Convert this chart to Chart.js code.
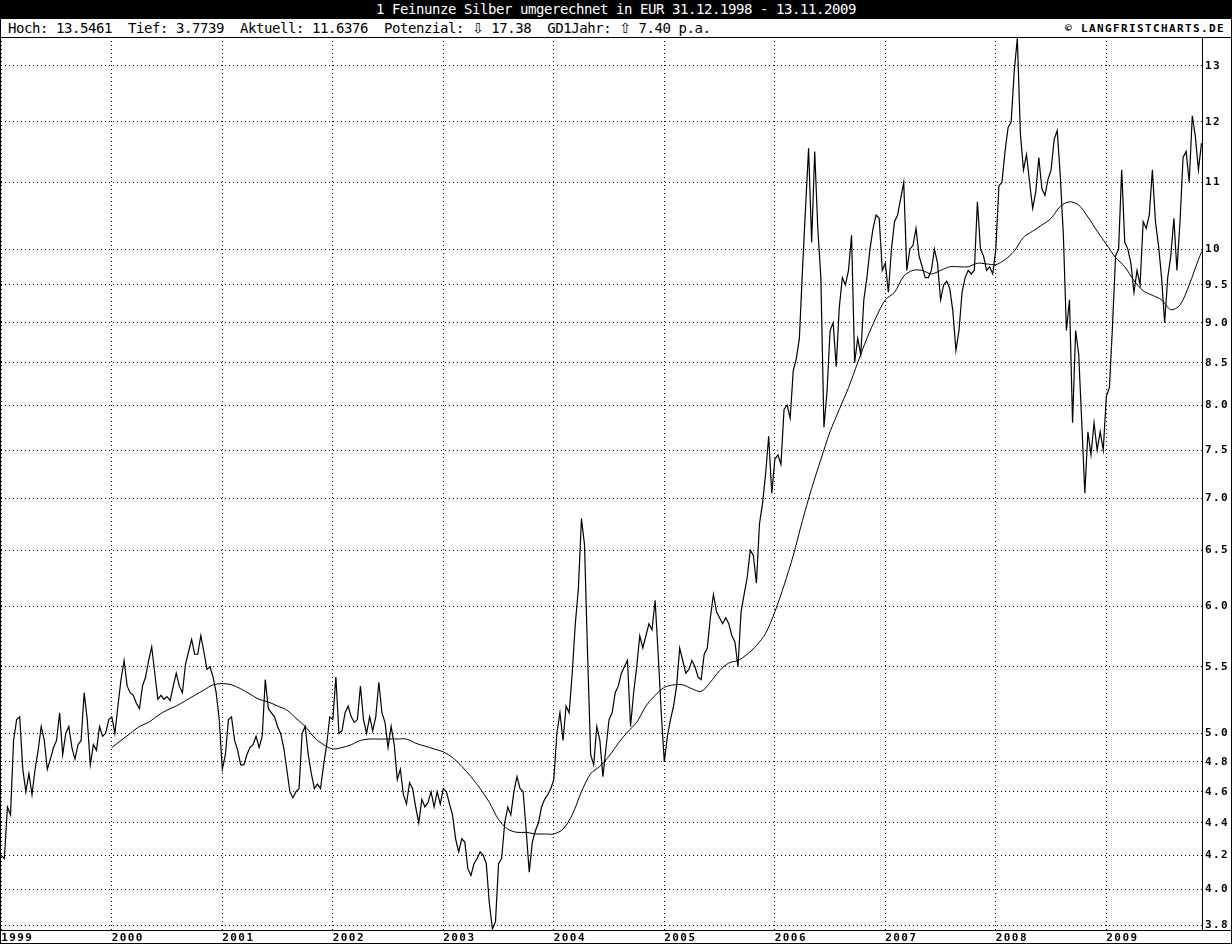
<!DOCTYPE html>
<html lang="de">
<head>
<meta charset="utf-8">
<title>1 Feinunze Silber in EUR</title>
<script src="https://cdn.jsdelivr.net/npm/chart.js@4/dist/chart.umd.min.js"></script>
<style>
  html, body { margin: 0; padding: 0; background: #fff; }
  #wrap { position: relative; width: 1232px; height: 944px; overflow: hidden; font-family: "DejaVu Sans Mono", monospace; }
  #kopf { position: absolute; left: 0; top: 0; width: 1232px; height: 19px; background: #000; color: #fff;
          font-size: 14px; letter-spacing: -0.43px; line-height: 19px; text-align: center; white-space: pre; }
  #info { position: absolute; left: 8px; top: 19px; height: 18px; line-height: 18px; font-size: 14px;
          letter-spacing: -0.43px; white-space: pre; color: #000; }
  #info .pfeil { font-family: "DejaVu Sans", sans-serif; color: #000; }
  #copy { position: absolute; right: 7px; top: 19px; height: 18px; line-height: 19px; font-size: 11px;
          font-weight: bold; letter-spacing: 1.38px; white-space: pre; color: #000; }
  #chart { position: absolute; left: 0; top: 37px; }
  #rahmen { position: absolute; left: 0; top: 0; width: 1232px; height: 944px; box-sizing: border-box;
            border: 1px solid #000; pointer-events: none; }
</style>
</head>
<body>
<div id="wrap">
  <div id="kopf">1 Feinunze Silber umgerechnet in EUR 31.12.1998 - 13.11.2009</div>
  <div id="info">Hoch: 13.5461  Tief: 3.7739  Aktuell: 11.6376  Potenzial: <span class="pfeil">⇩</span> 17.38  GD1Jahr: <span class="pfeil">⇧</span> 7.40 p.a.</div>
  <div id="copy">© LANGFRISTCHARTS.DE</div>
  <canvas id="chart" width="1232" height="907"></canvas>
  <div id="rahmen"></div>
</div>
<script>
// ACHSEN
const startDatum = 1999 - 1 / 365      // 31.12.1998
const endDatum = 2009 + 316 / 365      // 13.11.2009
const hoch = 13.5461
const tief = 3.7739
const jahre = [1999, 2000, 2001, 2002, 2003, 2004, 2005, 2006, 2007, 2008, 2009]
const yTicks = [13, 12, 11, 10, 9.5, 9.0, 8.5, 8.0, 7.5, 7.0, 6.5, 6.0, 5.5, 5.0, 4.8, 4.6, 4.4, 4.2, 4.0, 3.8]

// KURS (3 WERTE PRO MONAT)
const silber1999 = [4.2, 4.18, 4.5, 4.45, 4.95, 5.1, 5.12, 4.75, 4.6, 4.72, 4.58, 4.75, 4.88, 5.05, 4.95, 4.75, 4.82, 4.9,
    4.95, 5.15, 4.85, 5.0, 5.05, 4.9, 4.82, 4.92, 4.95, 5.3, 5.1, 4.78, 4.92, 4.88, 5.05, 4.98, 5.0, 5.1]
const silber2000 = [5.12, 5.0, 5.2, 5.4, 5.55, 5.35, 5.3, 5.28, 5.22, 5.18, 5.35, 5.42, 5.55, 5.66, 5.45, 5.25, 5.28, 5.25,
    5.27, 5.24, 5.35, 5.45, 5.35, 5.3, 5.52, 5.62, 5.72, 5.6, 5.6, 5.75, 5.62, 5.48, 5.5, 5.42, 5.3, 5.1]
const silber2001 = [4.75, 4.85, 5.1, 5.12, 4.95, 4.88, 4.78, 4.78, 4.85, 4.9, 4.92, 4.98, 4.9, 4.98, 5.4, 5.18, 5.15, 5.12,
    5.05, 5.0, 4.9, 4.75, 4.6, 4.56, 4.6, 4.62, 5.0, 5.05, 4.85, 4.72, 4.62, 4.65, 4.62, 4.78, 4.92, 5.12]
const silber2002 = [5.1, 5.42, 5.0, 5.02, 5.15, 5.2, 5.12, 5.08, 5.1, 5.35, 5.1, 5.0, 5.12, 5.02, 5.12, 5.38, 5.15, 5.08,
    4.9, 5.05, 4.92, 4.68, 4.75, 4.58, 4.52, 4.66, 4.62, 4.5, 4.4, 4.55, 4.5, 4.53, 4.6, 4.5, 4.6, 4.52]
const silber2003 = [4.62, 4.6, 4.52, 4.45, 4.3, 4.22, 4.3, 4.28, 4.12, 4.08, 4.15, 4.18, 4.22, 4.2, 4.15, 3.92, 3.78, 3.82,
    4.15, 4.18, 4.4, 4.5, 4.45, 4.6, 4.7, 4.62, 4.6, 4.35, 4.1, 4.28, 4.35, 4.4, 4.5, 4.55, 4.58, 4.62]
const silber2004 = [4.68, 5.0, 5.15, 4.95, 5.2, 5.15, 5.45, 5.85, 6.15, 6.8, 6.55, 5.6, 4.85, 4.78, 5.05, 4.95, 4.7, 4.9,
    5.1, 5.15, 5.3, 5.35, 5.45, 5.5, 5.55, 5.05, 5.3, 5.5, 5.75, 5.65, 5.75, 5.85, 5.8, 6.05, 5.6, 5.15]
const silber2005 = [4.8, 4.98, 5.1, 5.2, 5.35, 5.65, 5.55, 5.45, 5.48, 5.55, 5.5, 5.42, 5.4, 5.6, 5.65, 5.9, 6.1, 5.95,
    5.9, 5.85, 5.9, 5.85, 5.75, 5.7, 5.5, 5.95, 6.1, 6.25, 6.5, 6.45, 6.2, 6.75, 6.95, 7.25, 7.65, 7.05]
const silber2006 = [7.4, 7.45, 7.35, 7.95, 8.0, 7.85, 8.4, 8.55, 8.8, 9.7, 10.6, 11.55, 10.1, 11.5, 10.3, 9.6, 7.75, 8.15,
    8.9, 9.0, 8.45, 9.2, 9.6, 9.5, 9.7, 10.2, 8.5, 8.8, 8.6, 9.3, 9.6, 10.0, 10.3, 10.5, 10.45, 9.7]
const silber2007 = [9.8, 9.4, 10.0, 10.4, 10.5, 10.75, 11.0, 9.7, 10.0, 10.05, 10.3, 9.9, 9.75, 9.6, 9.6, 9.7, 10.0, 9.8,
    9.3, 9.5, 9.55, 9.45, 9.15, 8.65, 8.9, 9.4, 9.6, 9.7, 9.65, 9.7, 10.7, 10.0, 9.9, 9.7, 9.75, 9.65]
const silber2008 = [10.0, 10.95, 11.0, 11.5, 11.9, 12.0, 12.9, 13.52, 11.8, 11.2, 11.45, 11.0, 10.6, 10.85, 11.4, 10.9, 10.8, 11.05,
    11.2, 11.7, 11.85, 11.1, 10.2, 8.9, 9.3, 7.8, 8.9, 8.6, 7.8, 7.05, 7.7, 7.45, 7.8, 7.5, 7.7, 7.5]
const silber2009 = [8.1, 8.2, 8.95, 9.9, 10.0, 11.2, 10.1, 10.0, 9.8, 9.4, 9.7, 9.5, 10.4, 10.3, 10.5, 11.2, 10.4, 10.05,
    9.6, 9.0, 9.6, 9.9, 10.45, 9.7, 10.4, 11.4, 11.5, 11.0, 12.1, 11.75, 11.2, 11.6376]

// GLEITENDER DURCHSCHNITT (1 WERT PRO MONAT)
const gd2000 = [4.9, 4.95, 5.0, 5.05, 5.08, 5.13, 5.17, 5.2, 5.24, 5.28, 5.32, 5.36]
const gd2001 = [5.37, 5.36, 5.33, 5.29, 5.25, 5.23, 5.2, 5.17, 5.11, 5.05, 4.97, 4.92]
const gd2002 = [4.89, 4.9, 4.92, 4.95, 4.96, 4.96, 4.96, 4.96, 4.96, 4.93, 4.91, 4.89]
const gd2003 = [4.87, 4.83, 4.77, 4.7, 4.62, 4.53, 4.42, 4.36, 4.34, 4.34, 4.33, 4.33]
const gd2004 = [4.33, 4.36, 4.45, 4.6, 4.72, 4.77, 4.84, 4.93, 5.01, 5.08, 5.2, 5.28]
const gd2005 = [5.34, 5.36, 5.36, 5.33, 5.31, 5.38, 5.47, 5.53, 5.55, 5.6, 5.67, 5.77]
const gd2006 = [5.95, 6.18, 6.45, 6.78, 7.1, 7.4, 7.7, 7.95, 8.2, 8.5, 8.8, 9.07]
const gd2007 = [9.3, 9.4, 9.62, 9.7, 9.7, 9.65, 9.7, 9.75, 9.75, 9.75, 9.8, 9.79]
const gd2008 = [9.78, 9.85, 9.97, 10.17, 10.26, 10.35, 10.45, 10.63, 10.7, 10.65, 10.47, 10.26]
const gd2009 = [10.07, 9.88, 9.75, 9.56, 9.42, 9.36, 9.3, 9.17, 9.23, 9.5, 9.85]
const gdEnde = 9.97

// PUNKTE BAUEN
let kurs = []
const kursReihen = [silber1999, silber2000, silber2001, silber2002, silber2003, silber2004,
    silber2005, silber2006, silber2007, silber2008, silber2009]
kursReihen.forEach((reihe, j) => {
    reihe.forEach((wert, i) => {
        kurs.push({ x: i === 0 && j === 0 ? startDatum : 1999 + j + i / 36, y: wert })
    })
})

let gd = []
const gdReihen = [gd2000, gd2001, gd2002, gd2003, gd2004, gd2005, gd2006, gd2007, gd2008, gd2009]
gdReihen.forEach((reihe, j) => {
    reihe.forEach((wert, m) => gd.push({ x: 2000 + j + m / 12, y: wert }))
})
gd.push({ x: endDatum, y: gdEnde })

const schrift = { family: "DejaVu Sans Mono", size: 11, weight: "bold" }

// RAHMENLINIEN UND ZEICHENABSTAND
const rahmenLinien = {
    id: "rahmenLinien",
    beforeDraw(chart) {
        chart.ctx.letterSpacing = "1.4px"
    },
    afterDraw(chart) {
        const { ctx, chartArea: a, width } = chart
        ctx.save()
        ctx.fillStyle = "#000"
        ctx.fillRect(0, Math.round(a.top), width, 1)
        ctx.fillRect(0, Math.round(a.bottom), width, 1)
        ctx.fillRect(Math.round(a.right), a.top, 1, a.bottom - a.top)
        ctx.restore()
    }
}

new Chart(document.getElementById("chart"), {
    type: "line",
    data: {
        datasets: [
            { label: "Silber", data: kurs, borderColor: "#000", borderWidth: 1.2, pointRadius: 0, tension: 0, fill: false },
            { label: "GD", data: gd, borderColor: "#000", borderWidth: 1, pointRadius: 0, tension: 0.3, fill: false }
        ]
    },
    options: {
        responsive: false,
        animation: false,
        parsing: false,
        normalized: true,
        devicePixelRatio: 1,
        layout: { padding: { left: 1, right: 1, top: 0, bottom: 1 } },
        plugins: {
            legend: { display: false },
            tooltip: { enabled: false },
            title: { display: false }
        },
        scales: {
            x: {
                type: "linear",
                min: startDatum,
                max: endDatum,
                afterBuildTicks: axis => { axis.ticks = jahre.map(v => ({ value: v })) },
                afterFit: axis => {
                    axis.height = 13
                    axis.paddingLeft = 0
                    axis.paddingRight = 0
                },
                grid: { color: "#000", lineWidth: 1, drawTicks: false },
                border: { display: false, dash: [1, 3] },
                ticks: {
                    autoSkip: false, maxRotation: 0, align: "start", padding: 2,
                    color: "#000", font: schrift,
                    callback: v => String(v)
                }
            },
            y: {
                type: "logarithmic",
                position: "right",
                min: tief,
                max: hoch,
                afterBuildTicks: axis => { axis.ticks = yTicks.map(v => ({ value: v })) },
                afterFit: axis => {
                    axis.width = 29
                    axis.paddingTop = 0
                    axis.paddingBottom = 0
                },
                grid: { color: "#000", lineWidth: 1, drawTicks: false },
                border: { display: false, dash: [1, 3] },
                ticks: {
                    padding: 3, color: "#000", font: schrift,
                    callback: v => v >= 10 ? String(v) : v.toFixed(1)
                }
            }
        }
    },
    plugins: [rahmenLinien]
})
</script>
</body>
</html>
